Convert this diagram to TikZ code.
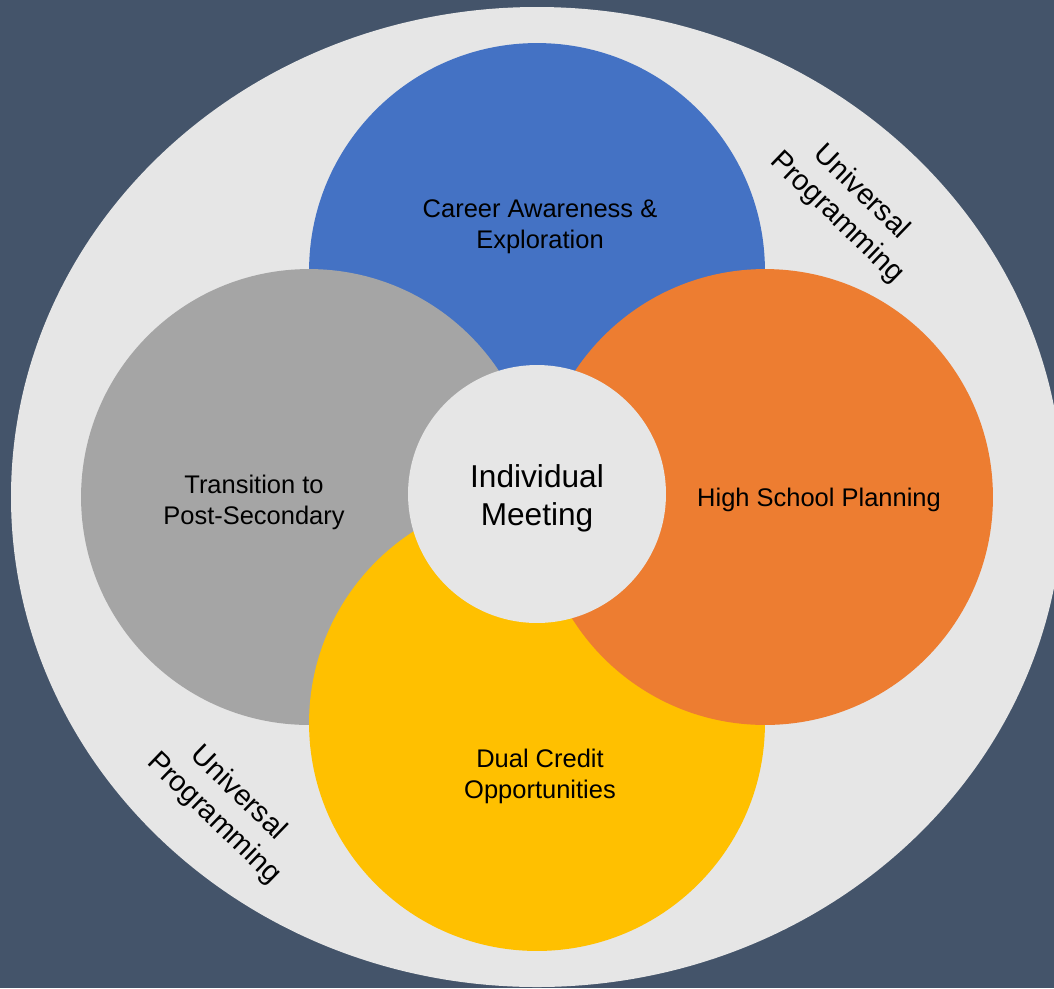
\documentclass[tikz,border=0pt]{standalone}
\usepackage{fontspec}
\setmainfont{Liberation Sans}
\definecolor{slatebg}{HTML}{44546A}
\definecolor{ringgray}{HTML}{E6E6E6}
\definecolor{careerblue}{HTML}{4472C4}
\definecolor{transgray}{HTML}{A5A5A5}
\definecolor{planorange}{HTML}{ED7D31}
\definecolor{creditgold}{HTML}{FFC000}
\begin{document}
\begin{tikzpicture}[x=0.02cm,y=-0.02cm]
				\tikzstyle{every node}=[inner sep=0pt,align=center,text=black]
				\tikzstyle{petal}=[circle,minimum size=9.12cm]
				\tikzstyle{petal text}=[font=\fontsize{14.5}{17.6}\selectfont]
				\tikzstyle{ring text}=[font=\fontsize{16.5}{20}\selectfont,rotate=-44]
				\fill[slatebg] (0,0) rectangle (1054,988);
				\useasboundingbox (0,0) rectangle (1054,988);
				\fill[ringgray] (537,497) ellipse [x radius=526,y radius=490];
				\node[petal,fill=careerblue] (career) at (537,271) {};
				\node[petal,fill=transgray] (transition) at (309,497) {};
				\node[petal,fill=creditgold] (credit) at (537,723) {};
				\node[petal,fill=planorange] (planning) at (765,497) {};
				\node[circle,minimum size=5.16cm,fill=ringgray] (meeting) at (537,494) {};
				\node[font=\fontsize{18}{21.6}\selectfont] (meeting text) at (537,498) {Individual\\Meeting};
				\node[petal text] (career text) at (540,227) {Career Awareness \&\\Exploration};
				\node[petal text] (transition text) at (254,502) {Transition to\\Post-Secondary};
				\node[petal text] (planning text) at (819,500) {High School Planning};
				\node[petal text] (credit text) at (540,776) {Dual Credit\\Opportunities};
				\node[ring text] (upper ring) at (849,205) {Universal\\Programming};
				\node[ring text] (lower ring) at (226,806) {Universal\\Programming};
\end{tikzpicture}
\end{document}
